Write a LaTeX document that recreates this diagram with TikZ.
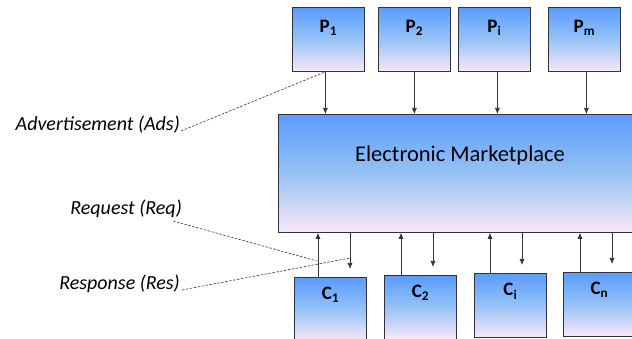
\documentclass[tikz,border=0pt]{standalone}
\usepackage{fontspec}
\setmainfont{Carlito}
\usetikzlibrary{arrows.meta,shadows}
\definecolor{gtop}{RGB}{90,155,255}
\definecolor{gmid}{RGB}{150,195,245}
\definecolor{gbot}{RGB}{250,232,248}
\definecolor{edge}{RGB}{50,50,60}
\tikzset{
  grad/.style={draw=edge, line width=0.8pt, top color=gtop, bottom color=gbot, middle color=gmid,
    drop shadow={shadow xshift=1pt, shadow yshift=-1pt, opacity=0.45, fill=black!60}},
  pbox/.style={grad, minimum width=72pt, minimum height=64pt, inner sep=0pt, anchor=north west},
  lbl/.style={font=\fontsize{19}{22}\selectfont\bfseries, anchor=north, inner sep=0pt},
  arr/.style={draw=black!80, line width=0.7pt, -{Latex[length=6pt,width=5pt]}},
  dline/.style={draw=black!80, dash pattern=on 2.5pt off 1.5pt, line width=0.6pt},
  itl/.style={font=\fontsize{20}{24}\selectfont\itshape, inner sep=0pt}
}
\begin{document}
\begin{tikzpicture}[x=1pt,y=-1pt]
\useasboundingbox (0,0) rectangle (632,339);
% producers
\node[pbox] (P1) at (292,7) {};
\node[pbox] (P2) at (378,7) {};
\node[pbox] (Pi) at (458,7) {};
\node[pbox] (Pm) at (548,7) {};
\node[lbl] (tP1) at ([yshift=-13pt]P1.north) {P\textsubscript{1}};
\node[lbl] (tP2) at ([yshift=-13pt]P2.north) {P\textsubscript{2}};
\node[lbl] (tPi) at ([yshift=-13pt]Pi.north) {P\textsubscript{i}};
\node[lbl] (tPm) at ([yshift=-13pt]Pm.north) {P\textsubscript{m}};
% marketplace
\node[grad, minimum width=364pt, minimum height=118pt, inner sep=0pt, anchor=north west] (M) at (278,114) {};
\node[font=\fontsize{22.5}{26}\selectfont, inner sep=0pt] (tM) at (460,156) {Electronic Marketplace};
% consumers
\node[pbox] (C1) at (294,277) {};
\node[pbox] (C2) at (384,275) {};
\node[pbox] (Ci) at (474,273) {};
\node[pbox] (Cn) at (563,272) {};
\node[lbl] (tC1) at ([yshift=-10pt]C1.north) {C\textsubscript{1}};
\node[lbl] (tC2) at ([yshift=-10pt]C2.north) {C\textsubscript{2}};
\node[lbl] (tCi) at ([yshift=-10pt]Ci.north) {C\textsubscript{i}};
\node[lbl] (tCn) at ([yshift=-10pt]Cn.north) {C\textsubscript{n}};
% producer arrows
\foreach \p/\dx in {P1/-3,P2/0,Pi/3,Pm/2}{
  \path ([xshift=\dx pt]\p.south) coordinate (s\p);
  \draw[arr] (s\p) -- (s\p |- M.north);
}
% consumer arrows
\foreach \c/\u/\d in {C1/24/56,C2/17/49,Ci/16/48,Cn/17/49}{
  \path ([xshift=\u pt]\c.north west) coordinate (u\c);
  \path ([xshift=\d pt]\c.north west) coordinate (d\c);
  \draw[arr] (u\c) -- (u\c |- M.south);
  \draw[arr] (d\c |- M.south) -- ([yshift=8pt]d\c);
}
% labels
\node[itl, anchor=base east] (ads) at (180,131) {Advertisement (Ads)};
\node[itl, anchor=base east] (req) at (182,215) {Request (Req)};
\node[itl, anchor=base east] (res) at (180,289) {Response (Res)};
\coordinate (adsst) at (181,131);
\coordinate (reqst) at (173,221);
\coordinate (resst) at (182,290);
\coordinate (reqend) at (317,261);
\coordinate (resend) at (350,258);
\draw[dline] (adsst) -- (sP1);
\draw[dline] (reqst) -- (reqend);
\draw[dline] (resst) -- (resend);
\end{tikzpicture}
\end{document}
